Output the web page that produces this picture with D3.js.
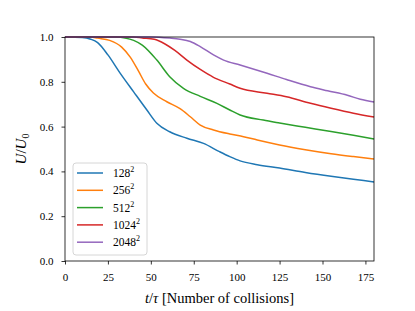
<!DOCTYPE html>
<html>
<head>
<meta charset="utf-8">
<script src="https://cdn.jsdelivr.net/npm/d3@7"></script>
<style>
  body { margin: 0; background: #fff; }
  text { font-family: "Liberation Serif", "DejaVu Serif", serif; fill: #000; }
</style>
</head>
<body>
<svg width="415" height="311"></svg>
<script>
// data: t (collisions) and U/U0
var sizes = ["128", "256", "512", "1024", "2048"];
var colors = ["#1f77b4", "#ff7f0e", "#2ca02c", "#d62728", "#9467bd"];

var t128 = [0, 10, 15, 19, 25, 32, 40, 47.7, 53.5, 61, 71, 80.7, 90, 96, 102, 112, 125, 140, 155, 168, 180];
var u128 = [1.0, 0.998, 0.99, 0.975, 0.92, 0.84, 0.755, 0.674, 0.615, 0.577, 0.548, 0.525, 0.488, 0.466, 0.447, 0.43, 0.415, 0.395, 0.378, 0.365, 0.353];

var t256 = [0, 15, 19, 26, 33, 38, 43, 47, 51.5, 59.3, 67, 73, 78.8, 86.5, 96, 104, 112, 125, 140, 155, 168, 180];
var u256 = [1.0, 1.0, 0.995, 0.985, 0.955, 0.91, 0.845, 0.79, 0.75, 0.711, 0.68, 0.644, 0.607, 0.585, 0.567, 0.555, 0.54, 0.518, 0.497, 0.479, 0.466, 0.455];

var t512 = [0, 30, 35, 40, 45, 53.5, 61, 69, 78.8, 88.5, 96, 102, 115.5, 125, 140, 155, 168, 180];
var u512 = [1.0, 1.0, 0.996, 0.985, 0.964, 0.897, 0.823, 0.771, 0.735, 0.704, 0.674, 0.652, 0.629, 0.616, 0.597, 0.578, 0.561, 0.545];

var t1024 = [0, 40, 45, 52, 58, 64, 71, 78.8, 86.5, 96, 102, 117.7, 129, 143, 155, 168, 180];
var u1024 = [1.0, 1.0, 0.996, 0.99, 0.97, 0.94, 0.897, 0.855, 0.82, 0.79, 0.771, 0.749, 0.733, 0.704, 0.682, 0.66, 0.643];

var t2048 = [0, 50, 61, 67, 73, 78.8, 86.5, 92.4, 102, 117.7, 129, 143, 153, 164.5, 172, 180];
var u2048 = [1.0, 1.0, 0.995, 0.99, 0.98, 0.957, 0.92, 0.897, 0.875, 0.838, 0.81, 0.778, 0.76, 0.74, 0.722, 0.71];

var xTicks = [0, 25, 50, 75, 100, 125, 150, 175];
var yTicks = [0.0, 0.2, 0.4, 0.6, 0.8, 1.0];

var series = [
  { name: sizes[0], t: t128, u: u128 },
  { name: sizes[1], t: t256, u: u256 },
  { name: sizes[2], t: t512, u: u512 },
  { name: sizes[3], t: t1024, u: u1024 },
  { name: sizes[4], t: t2048, u: u2048 }
];

var svg = d3.select("svg");
var m = { left: 65, right: 374, top: 37, bottom: 261 };

var x = d3.scaleLinear().domain([0, 180]).range([m.left, m.right]);
var y = d3.scaleLinear().domain([0, 1]).range([m.bottom, m.top]);

var line = d3.line()
  .x(function (d) { return x(d[0]); })
  .y(function (d) { return y(d[1]); })
  .curve(d3.curveMonotoneX);

var plot = svg.append("g");
plot.selectAll("path.series")
  .data(series)
  .enter().append("path")
  .attr("class", "series")
  .attr("fill", "none")
  .attr("stroke", function (d, i) { return colors[i]; })
  .attr("stroke-width", 1.5)
  .attr("stroke-linejoin", "round")
  .attr("d", function (d) { return line(d.t.map(function (t, i) { return [t, d.u[i]]; })); });

// axes
var xAxis = svg.append("g")
  .attr("transform", "translate(0," + m.bottom + ")")
  .call(d3.axisBottom(x).tickValues(xTicks).tickSize(3.5).tickPadding(9).tickFormat(d3.format("d")));
var yAxis = svg.append("g")
  .attr("transform", "translate(" + m.left + ",0)")
  .call(d3.axisLeft(y).tickValues(yTicks).tickSize(3.5).tickPadding(8).tickFormat(d3.format(".1f")));

[xAxis, yAxis].forEach(function (a) {
  a.attr("font-family", null);
  a.select(".domain").remove();
  a.selectAll("line").attr("stroke", "#000").attr("stroke-width", 0.8);
  a.selectAll("text").attr("font-size", 11);
});

// frame
svg.append("rect")
  .attr("x", m.left).attr("y", m.top)
  .attr("width", m.right - m.left).attr("height", m.bottom - m.top)
  .attr("fill", "none").attr("stroke", "#000").attr("stroke-width", 0.8);

// axis labels
var xl = svg.append("text")
  .attr("x", (m.left + m.right) / 2).attr("y", 303)
  .attr("text-anchor", "middle").attr("font-size", 14.5);
xl.append("tspan").attr("font-style", "italic").text("t");
xl.append("tspan").text("/");
xl.append("tspan").attr("font-style", "italic").text("τ");
xl.append("tspan").text(" [Number of collisions]");

var yl = svg.append("text")
  .attr("transform", "translate(26," + ((m.top + m.bottom) / 2) + ") rotate(-90)")
  .attr("text-anchor", "middle").attr("font-size", 15);
yl.append("tspan").attr("font-style", "italic").text("U");
yl.append("tspan").text("/");
yl.append("tspan").attr("font-style", "italic").text("U");
yl.append("tspan").attr("font-size", 10).attr("dy", 3).text("0");

// legend
var lg = svg.append("g").attr("transform", "translate(73,163)");
lg.append("rect")
  .attr("width", 74).attr("height", 92).attr("rx", 3)
  .attr("fill", "#fff").attr("fill-opacity", 0.8)
  .attr("stroke", "#ccc").attr("stroke-width", 0.8);

var rows = lg.selectAll("g.row")
  .data(series)
  .enter().append("g")
  .attr("class", "row")
  .attr("transform", function (d, i) { return "translate(0," + (10 + i * 17.3) + ")"; });
rows.append("line")
  .attr("x1", 4).attr("x2", 30)
  .attr("stroke", function (d, i) { return colors[i]; })
  .attr("stroke-width", 1.5);
var lt = rows.append("text")
  .attr("x", 40).attr("y", 4).attr("font-size", 11.5);
lt.append("tspan").text(function (d) { return d.name; });
lt.append("tspan").attr("font-size", 8).attr("dy", -5).text("2");
</script>
</body>
</html>
